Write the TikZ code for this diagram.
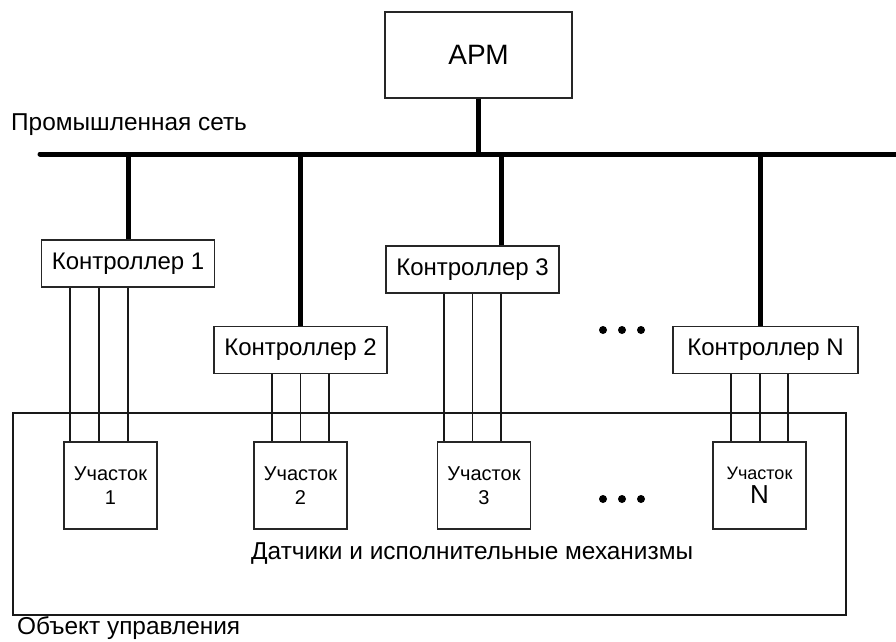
\documentclass[tikz,border=0pt]{standalone}
\usepackage{fontspec}
\setmainfont{Liberation Sans}
\usepackage{tikz}
\usetikzlibrary{positioning}

\tikzset{
    box/.style={draw=black!85, line width=1.3pt, fill=white, inner sep=0pt},
    ctrlbox/.style={box, minimum width=173pt, minimum height=47pt, font=\fontsize{24}{28}\selectfont},
    partbox/.style={box, minimum width=93pt, minimum height=87pt, align=center},
    bus/.style={line width=5pt, line cap=round},
    wire/.style={line width=1.4pt, black!90},
    label/.style={inner sep=0pt, anchor=west, font=\fontsize{24.4}{28}\selectfont}
}

\begin{document}
\begin{tikzpicture}[x=1pt, y=-1pt]

            \useasboundingbox (0,0) rectangle (896,641);

            % object and network
            \draw[wire] (13,413) rectangle (846,615);
            \node[box, minimum width=187pt, minimum height=86pt, font=\fontsize{28}{32}\selectfont] (arm) at (478.5,55) {АРМ};

            \coordinate (busL) at (40,154);
            \coordinate (busR) at (899,154);
            \draw[bus] (busL) -- (busR);

            \node[label] (net) at (11,125) {Промышленная сеть};

            % controllers
            \node[ctrlbox] (k1) at (128,263.5) {Контроллер 1};
            \node[ctrlbox] (k2) at (300.5,350) {Контроллер 2};
            \node[ctrlbox] (k3) at (472.5,269.5) {Контроллер 3};
            \node[ctrlbox, minimum width=185pt] (kN) at (765.5,350) {Контроллер N};

            % sections
            \node[partbox, font=\fontsize{20}{24}\selectfont] (u1) at (110.5,485.5) {Участок\\1};
            \node[partbox, font=\fontsize{20}{24}\selectfont] (u2) at (300.5,485.5) {Участок\\2};
            \node[partbox, font=\fontsize{20}{24}\selectfont] (u3) at (484,485.5) {Участок\\3};
            \node[partbox, font=\fontsize{18}{20}\selectfont] (uN) at (759.5,485.5) {Участок\\[4pt]{\fontsize{26}{20}\selectfont N}};

            % bus drops
            \draw[bus, line cap=butt] (arm.south) -- (arm.south |- busL);
            \draw[bus, line cap=butt] (k1.north) -- (k1.north |- busL);
            \draw[bus, line cap=butt] (k2.north) -- (k2.north |- busL);
            \draw[bus, line cap=butt] ([xshift=28.5pt]k3.north) -- ([xshift=28.5pt]k3.north |- busL);
            \draw[bus, line cap=butt] ([xshift=-5.5pt]kN.north) -- ([xshift=-5.5pt]kN.north |- busL);

            % wires to sections
            \foreach \dx in {-58,-29,0}
            \draw[wire] ([xshift=\dx pt]k1.south) -- ([xshift=\dx pt]k1.south |- u1.north);
            \foreach \dx in {-28.5,0,28.5}
            \draw[wire] ([xshift=\dx pt]k2.south) -- ([xshift=\dx pt]k2.south |- u2.north);
            \foreach \dx in {-28.5,0,28.5}
            \draw[wire] ([xshift=\dx pt]k3.south) -- ([xshift=\dx pt]k3.south |- u3.north);
            \foreach \dx in {-34.5,-5.5,22.5}
            \draw[wire] ([xshift=\dx pt]kN.south) -- ([xshift=\dx pt]kN.south |- uN.north);

            % dots
            \foreach \x in {603,622,641}
            \fill (\x,330) circle (4);
            \foreach \x in {603,622,641}
            \fill (\x,499) circle (4);

            \node[label] (sens) at (251,554) {Датчики и исполнительные механизмы};
            \node[label] (obj) at (17,628) {Объект управления};

\end{tikzpicture}
\end{document}
